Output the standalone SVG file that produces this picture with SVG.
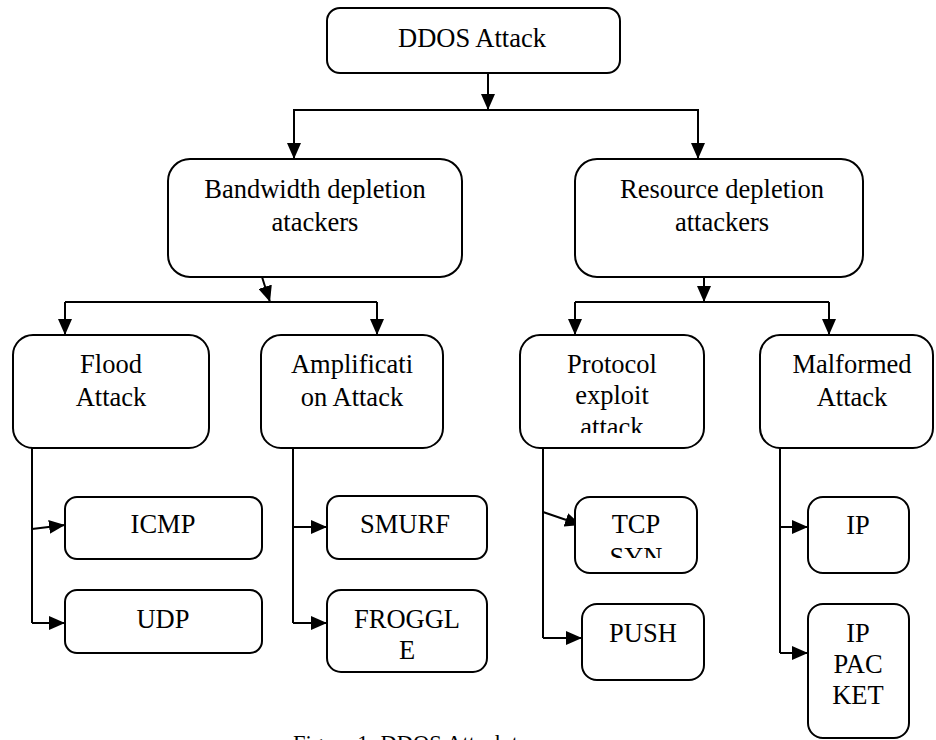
<svg xmlns="http://www.w3.org/2000/svg" width="936" height="740" viewBox="0 0 936 740">
<style>
.box{fill:#fff;stroke:#000;stroke-width:2}
.t{font-family:"Liberation Serif","Times New Roman",serif;font-size:26.5px;fill:#000;text-anchor:middle}
.cap{font-family:"Liberation Serif","Times New Roman",serif;font-size:22.5px;fill:#000}
.ln{fill:none;stroke:#000;stroke-width:2}
</style>
<defs>
<marker id="ah" viewBox="0 0 16 14" refX="16" refY="7" markerWidth="16" markerHeight="14" markerUnits="userSpaceOnUse" orient="auto">
<path d="M0,0 L16,7 L0,14 Z" fill="#000"/>
</marker>
<clipPath id="clipProto"><rect x="520" y="335" width="184" height="98"/></clipPath>
<clipPath id="clipTcp"><rect x="575" y="497" width="122" height="61"/></clipPath>
</defs>
<rect width="936" height="740" fill="#fff"/>
<g id="connectors">
<line class="ln" x1="488" y1="73" x2="488" y2="110" marker-end="url(#ah)"/>
<polyline class="ln" points="294,159 294,110 698,110 698,159"/>
<line class="ln" x1="294" y1="110" x2="294" y2="159" marker-end="url(#ah)"/>
<line class="ln" x1="698" y1="110" x2="698" y2="159" marker-end="url(#ah)"/>
<line class="ln" x1="262" y1="277" x2="270" y2="302" marker-end="url(#ah)"/>
<polyline class="ln" points="65,302 377,302"/>
<line class="ln" x1="65" y1="302" x2="65" y2="335" marker-end="url(#ah)"/>
<line class="ln" x1="377" y1="302" x2="377" y2="335" marker-end="url(#ah)"/>
<line class="ln" x1="704" y1="277" x2="704" y2="302" marker-end="url(#ah)"/>
<polyline class="ln" points="575,302 829,302"/>
<line class="ln" x1="575" y1="302" x2="575" y2="335" marker-end="url(#ah)"/>
<line class="ln" x1="829" y1="302" x2="829" y2="335" marker-end="url(#ah)"/>
<polyline class="ln" points="32,448 32,623"/>
<line class="ln" x1="32" y1="529" x2="65" y2="525" marker-end="url(#ah)"/>
<line class="ln" x1="32" y1="623" x2="65" y2="623" marker-end="url(#ah)"/>
<polyline class="ln" points="293,448 293,623"/>
<line class="ln" x1="293" y1="527" x2="327" y2="527" marker-end="url(#ah)"/>
<line class="ln" x1="293" y1="623" x2="327" y2="623" marker-end="url(#ah)"/>
<polyline class="ln" points="543,448 543,638"/>
<line class="ln" x1="543" y1="512" x2="581" y2="525" marker-end="url(#ah)"/>
<line class="ln" x1="543" y1="638" x2="582" y2="638" marker-end="url(#ah)"/>
<polyline class="ln" points="780,448 780,653"/>
<line class="ln" x1="780" y1="527" x2="808" y2="527" marker-end="url(#ah)"/>
<line class="ln" x1="780" y1="653" x2="808" y2="653" marker-end="url(#ah)"/>
</g>
<g id="ddos">
<rect class="box" x="327" y="8" width="293" height="65" rx="13"/>
<text class="t" x="472" y="47">DDOS Attack</text>
</g>
<g id="bandwidth">
<rect class="box" x="168" y="159" width="294" height="118" rx="22"/>
<text class="t" x="315" y="198">Bandwidth depletion</text>
<text class="t" x="315" y="231">atackers</text>
</g>
<g id="resource">
<rect class="box" x="575" y="159" width="288" height="118" rx="22"/>
<text class="t" x="722" y="198">Resource depletion</text>
<text class="t" x="722" y="231">attackers</text>
</g>
<g id="flood">
<rect class="box" x="13" y="335" width="196" height="113" rx="20"/>
<text class="t" x="111" y="373">Flood</text>
<text class="t" x="111" y="406">Attack</text>
</g>
<g id="amplification">
<rect class="box" x="261" y="335" width="182" height="113" rx="20"/>
<text class="t" x="352" y="373">Amplificati</text>
<text class="t" x="352" y="406">on Attack</text>
</g>
<g id="protocol">
<rect class="box" x="520" y="335" width="184" height="113" rx="20"/>
<g clip-path="url(#clipProto)">
<text class="t" x="612" y="373">Protocol</text>
<text class="t" x="612" y="404">exploit</text>
<text class="t" x="612" y="436">attack</text>
</g>
</g>
<g id="malformed">
<rect class="box" x="760" y="335" width="173" height="113" rx="20"/>
<text class="t" x="852" y="373">Malformed</text>
<text class="t" x="852" y="406">Attack</text>
</g>
<g id="icmp">
<rect class="box" x="65" y="497" width="197" height="62" rx="12"/>
<text class="t" x="163" y="533">ICMP</text>
</g>
<g id="udp">
<rect class="box" x="65" y="590" width="197" height="63" rx="12"/>
<text class="t" x="163" y="628">UDP</text>
</g>
<g id="smurf">
<rect class="box" x="327" y="496" width="160" height="63" rx="12"/>
<text class="t" x="405" y="533">SMURF</text>
</g>
<g id="froggle">
<rect class="box" x="327" y="590" width="160" height="82" rx="14"/>
<text class="t" x="407" y="628">FROGGL</text>
<text class="t" x="407" y="659">E</text>
</g>
<g id="tcpsyn">
<rect class="box" x="575" y="497" width="122" height="76" rx="15"/>
<g clip-path="url(#clipTcp)">
<text class="t" x="636" y="533">TCP</text>
<text class="t" x="636" y="566">SYN</text>
</g>
</g>
<g id="push">
<rect class="box" x="582" y="604" width="122" height="76" rx="15"/>
<text class="t" x="643" y="642">PUSH</text>
</g>
<g id="ip">
<rect class="box" x="808" y="497" width="101" height="76" rx="15"/>
<text class="t" x="858" y="534">IP</text>
</g>
<g id="ippacket">
<rect class="box" x="808" y="604" width="101" height="134" rx="15"/>
<text class="t" x="858" y="642">IP</text>
<text class="t" x="858" y="673">PAC</text>
<text class="t" x="858" y="704">KET</text>
</g>
<text class="cap" x="293" y="751">Figure 1: DDOS Attack t</text>
</svg>
